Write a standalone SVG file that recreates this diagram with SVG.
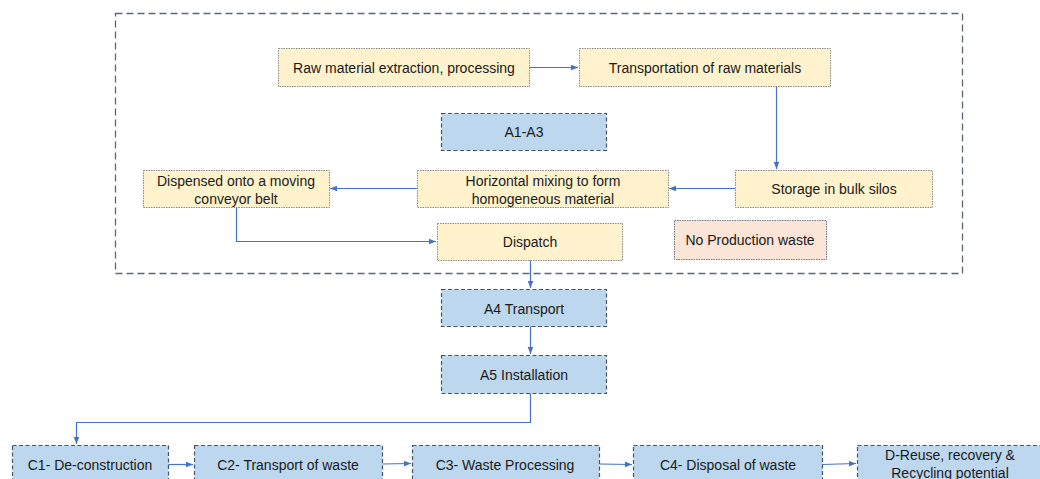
<svg xmlns="http://www.w3.org/2000/svg" width="1040" height="479" viewBox="0 0 1040 479">
<style>
.y{fill:#FFF2CC;stroke:#8a8a8a;stroke-width:1;stroke-dasharray:1.5 1}
.b{fill:#BDD7EE;stroke:#44546A;stroke-width:1.2;stroke-dasharray:4 2.5}
.p{fill:#FBE5D6;stroke:#6f6f7f;stroke-width:1;stroke-dasharray:1.5 1}
.frame{fill:none;stroke:#5b6778;stroke-width:1.3;stroke-dasharray:7 4}
text{font-family:"Liberation Sans",Arial,sans-serif;font-size:14px;fill:#1a1a1a;text-anchor:middle}
.c{fill:none;stroke:#4472C4;stroke-width:1.2;marker-end:url(#ah)}
</style>
<defs>
<marker id="ah" viewBox="0 0 10 10" refX="10" refY="5" markerWidth="7" markerHeight="7" markerUnits="userSpaceOnUse" orient="auto">
<path d="M0,1 L10,5 L0,9 z" fill="#4472C4"/>
</marker>
</defs>
<rect width="1040" height="479" fill="#ffffff"/>
<rect id="frame" class="frame" x="115.5" y="13.5" width="847" height="260"/>

<g id="connectors">
<path class="c" d="M529,67.5 L578,67.5"/>
<path class="c" d="M776.5,86 L776.5,169"/>
<path class="c" d="M735,188.5 L669,188.5"/>
<path class="c" d="M417,188.5 L330,188.5"/>
<path class="c" d="M236.5,207 L236.5,241.5 L436,241.5"/>
<path class="c" d="M530.5,260 L530.5,288"/>
<path class="c" d="M530.5,326 L530.5,354"/>
<path class="c" d="M530.5,393 L530.5,422.5 L76.5,422.5 L76.5,444"/>
<path class="c" d="M168,464.5 L193,464.5"/>
<path class="c" d="M382,464 L411,463.5"/>
<path class="c" d="M599,464 L632,464.5"/>
<path class="c" d="M822,464.5 L856,463.5"/>
</g>

<g id="raw"><rect class="y" x="278.5" y="48.5" width="251" height="38"/><text x="404" y="72.5">Raw material extraction, processing</text></g>
<g id="transport-raw"><rect class="y" x="579.5" y="48.5" width="251" height="38"/><text x="705" y="72.5">Transportation of raw materials</text></g>
<g id="a1a3"><rect class="b" x="441.5" y="113.5" width="165" height="37"/><text x="524" y="137">A1-A3</text></g>
<g id="storage"><rect class="y" x="735.5" y="170.5" width="197" height="37"/><text x="834" y="194">Storage in bulk silos</text></g>
<g id="mixing"><rect class="y" x="417.5" y="170.5" width="251" height="37"/><text x="543" y="185.5">Horizontal mixing to form</text><text x="543" y="203.5">homogeneous material</text></g>
<g id="dispensed"><rect class="y" x="143.5" y="170.5" width="186" height="37"/><text x="236" y="185.5">Dispensed onto a moving</text><text x="236" y="203.5">conveyor belt</text></g>
<g id="dispatch"><rect class="y" x="437.5" y="223.5" width="185" height="37"/><text x="530" y="246.5">Dispatch</text></g>
<g id="nowaste"><rect class="p" x="674.5" y="220.5" width="152" height="39"/><text x="750" y="245">No Production waste</text></g>
<g id="a4"><rect class="b" x="441.5" y="289.5" width="165" height="37"/><text x="524" y="313.5">A4 Transport</text></g>
<g id="a5"><rect class="b" x="441.5" y="355.5" width="165" height="38"/><text x="524" y="379.5">A5 Installation</text></g>
<g id="c1"><rect class="b" x="12.5" y="445.5" width="156" height="38"/><text x="90" y="469.5">C1- De-construction</text></g>
<g id="c2"><rect class="b" x="194.5" y="445.5" width="188" height="38"/><text x="288" y="469.5">C2- Transport of waste</text></g>
<g id="c3"><rect class="b" x="412.5" y="445.5" width="187" height="38"/><text x="505" y="469.5">C3- Waste Processing</text></g>
<g id="c4"><rect class="b" x="633.5" y="445.5" width="189" height="38"/><text x="728" y="469.5">C4- Disposal of waste</text></g>
<g id="d"><rect class="b" x="857.5" y="445.5" width="189" height="38"/><text x="950" y="460">D-Reuse, recovery &amp;</text><text x="950" y="478">Recycling potential</text></g>
</svg>
